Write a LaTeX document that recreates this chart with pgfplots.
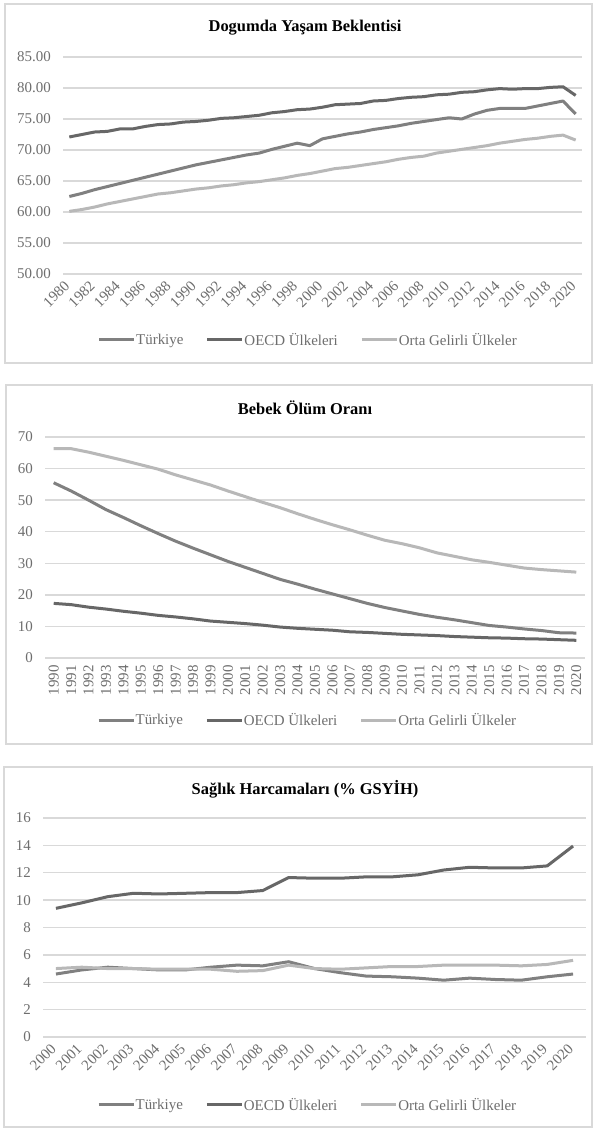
\documentclass[border=0pt]{standalone}
\usepackage{fontspec}
\setmainfont{Liberation Serif}
\usepackage{pgfplots}
\usepackage{pgfplotstable}
\pgfplotsset{compat=1.18}
\definecolor{cTR}{HTML}{808080}
\definecolor{cOECD}{HTML}{676767}
\definecolor{cORTA}{HTML}{B8B8B8}
\definecolor{gridc}{HTML}{D9D9D9}
\definecolor{txt}{HTML}{6E6E6E}
\definecolor{boxc}{HTML}{D9D9D9}

\pgfplotstableread{
year tr oecd orta
1980 62.5 72.1 60.1
1981 63.0 72.5 60.4
1982 63.6 72.9 60.8
1983 64.1 73.0 61.3
1984 64.6 73.4 61.7
1985 65.1 73.4 62.1
1986 65.6 73.8 62.5
1987 66.1 74.1 62.9
1988 66.6 74.2 63.1
1989 67.1 74.5 63.4
1990 67.6 74.6 63.7
1991 68.0 74.8 63.9
1992 68.4 75.1 64.2
1993 68.8 75.2 64.4
1994 69.2 75.4 64.7
1995 69.5 75.6 64.9
1996 70.1 76.0 65.2
1997 70.6 76.2 65.5
1998 71.1 76.5 65.9
1999 70.7 76.6 66.2
2000 71.8 76.9 66.6
2001 72.2 77.3 67.0
2002 72.6 77.4 67.2
2003 72.9 77.5 67.5
2004 73.3 77.9 67.8
2005 73.6 78.0 68.1
2006 73.9 78.3 68.5
2007 74.3 78.5 68.8
2008 74.6 78.6 69.0
2009 74.9 78.9 69.5
2010 75.2 79.0 69.8
2011 75.0 79.3 70.1
2012 75.8 79.4 70.4
2013 76.4 79.7 70.7
2014 76.7 79.9 71.1
2015 76.7 79.8 71.4
2016 76.7 79.9 71.7
2017 77.1 79.9 71.9
2018 77.5 80.1 72.2
2019 77.9 80.2 72.4
2020 75.8 78.8 71.6
}\lifetable

\pgfplotstableread{
year tr oecd orta
1990 55.5 17.3 66.3
1991 52.9 16.9 66.3
1992 50.0 16.1 65.2
1993 47.0 15.5 63.9
1994 44.5 14.8 62.6
1995 41.9 14.2 61.2
1996 39.4 13.5 59.8
1997 37.0 13.0 58.0
1998 34.8 12.4 56.4
1999 32.7 11.7 54.8
2000 30.6 11.3 52.9
2001 28.7 10.9 51.1
2002 26.8 10.4 49.3
2003 24.9 9.8 47.6
2004 23.4 9.4 45.7
2005 21.8 9.1 43.9
2006 20.3 8.8 42.2
2007 18.8 8.3 40.6
2008 17.3 8.1 38.9
2009 16.0 7.8 37.3
2010 14.9 7.5 36.2
2011 13.8 7.3 34.9
2012 12.9 7.1 33.3
2013 12.1 6.8 32.2
2014 11.2 6.6 31.1
2015 10.3 6.4 30.3
2016 9.8 6.3 29.4
2017 9.2 6.1 28.5
2018 8.7 6.0 28.0
2019 8.0 5.8 27.6
2020 7.9 5.6 27.2
}\infanttable

\pgfplotstableread{
year tr oecd orta
2000 4.60 9.40 5.00
2001 4.90 9.80 5.10
2002 5.10 10.25 5.00
2003 5.00 10.50 5.00
2004 4.90 10.45 4.95
2005 4.90 10.50 4.95
2006 5.10 10.55 4.95
2007 5.25 10.55 4.80
2008 5.20 10.70 4.85
2009 5.50 11.65 5.25
2010 5.00 11.60 5.00
2011 4.70 11.60 4.95
2012 4.45 11.70 5.05
2013 4.40 11.70 5.15
2014 4.30 11.85 5.15
2015 4.15 12.20 5.25
2016 4.30 12.40 5.25
2017 4.20 12.35 5.25
2018 4.15 12.35 5.20
2019 4.40 12.50 5.30
2020 4.60 13.95 5.60
}\healthtable

\pgfplotsset{
 base/.style={
  scale only axis,
  anchor=south west,
  axis line style={draw=none},
  major tick length=0pt,
  ymajorgrids,
  grid style={gridc, line width=1.3bp},
  tick label style={font=\fontsize{15}{15}\selectfont, text=txt},
  yticklabel style={inner xsep=0pt, xshift=-12bp},
  /pgf/number format/assume math mode=true,
  /pgf/number format/1000 sep={},
  clip=false,
  every axis plot/.append style={line width=3bp, line join=round, mark=none},
  legend columns=3,
  legend cell align=left,
  legend style={draw=none, fill=none, anchor=center,
    font=\fontsize{15}{15}\selectfont, text=txt,
    inner xsep=0pt, inner ysep=0pt,
    nodes={inner xsep=0.5bp, inner ysep=0pt, text=txt},
    /tikz/every even column/.append style={column sep=22bp}},
  legend image code/.code={\draw[##1, line width=3bp] (0bp,0bp) -- (35bp,0bp);},
 }
}

\begin{document}
\begin{tikzpicture}
\useasboundingbox (0,0) rectangle (596bp,1128bp);
\fill[white] (0,0) rectangle (596bp,1128bp);
\draw[boxc, line width=1.2bp] (5bp,765bp) rectangle (592bp,1124bp);
\draw[boxc, line width=1.2bp] (6bp,384bp) rectangle (592bp,743bp);
\draw[boxc, line width=1.2bp] (4bp,1bp) rectangle (592bp,361bp);

\node at (305bp,1100bp) {\bfseries\fontsize{16.5}{16.5}\selectfont Dogumda Yaşam Beklentisi};
\node at (305bp,720bp) {\bfseries\fontsize{16.5}{16.5}\selectfont Bebek Ölüm Oranı};
\node at (305bp,339bp) {\bfseries\fontsize{16.5}{16.5}\selectfont Sağlık Harcamaları (\% GSYİH)};

% Panel 1
\begin{axis}[base, at={(63bp,854bp)}, width=519bp, height=217bp,
  xmin=1979.5, xmax=2020.5, ymin=50, ymax=85,
  ytick={50,55,...,85},
  yticklabel style={/pgf/number format/.cd, fixed, fixed zerofill, precision=2},
  xtick={1980,1982,...,2020},
  xticklabel style={rotate=45, anchor=east},
  xticklabel shift=7bp,
  legend style={at={(axis description cs:0.471,-0.304)}}]
\addplot[cTR] table[x=year, y=tr] {\lifetable};
\addplot[cOECD] table[x=year, y=oecd] {\lifetable};
\addplot[cORTA] table[x=year, y=orta] {\lifetable};
\legend{Türkiye, OECD Ülkeleri, Orta Gelirli Ülkeler}
\end{axis}

% Panel 2
\begin{axis}[base, at={(45bp,470bp)}, width=540bp, height=221bp,
  xmin=1989.5, xmax=2020.5, ymin=0, ymax=70,
  ytick={0,10,...,70},
  xtick={1990,1991,...,2020},
  xticklabel style={rotate=90, anchor=east},
  xticklabel shift=4bp,
  legend style={at={(axis description cs:0.485,-0.281)}}]
\addplot[cTR] table[x=year, y=tr] {\infanttable};
\addplot[cOECD] table[x=year, y=oecd] {\infanttable};
\addplot[cORTA] table[x=year, y=orta] {\infanttable};
\legend{Türkiye, OECD Ülkeleri, Orta Gelirli Ülkeler}
\end{axis}

% Panel 3
\begin{axis}[base, at={(43bp,91bp)}, width=543bp, height=219bp,
  xmin=1999.5, xmax=2020.5, ymin=0, ymax=16,
  ytick={0,2,...,16},
  xtick={2000,2001,...,2020},
  xticklabel style={rotate=45, anchor=east},
  xticklabel shift=7bp,
  legend style={at={(axis description cs:0.486,-0.31)}}]
\addplot[cTR] table[x=year, y=tr] {\healthtable};
\addplot[cOECD] table[x=year, y=oecd] {\healthtable};
\addplot[cORTA] table[x=year, y=orta] {\healthtable};
\legend{Türkiye, OECD Ülkeleri, Orta Gelirli Ülkeler}
\end{axis}
\end{tikzpicture}
\end{document}
